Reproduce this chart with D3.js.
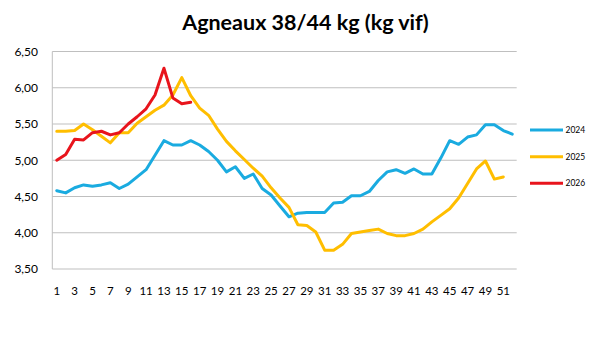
<!DOCTYPE html>
<html><head><meta charset="utf-8">
<script src="https://cdn.jsdelivr.net/npm/d3@7"></script>
<style>body{margin:0;background:#fff}svg{display:block}text{font-family:Lato,"Open Sans",sans-serif}</style>
</head><body><svg id="c" width="600" height="356"></svg>
<script>
const weeks = d3.range(1, 53);
const xTickLabels = d3.range(1, 53, 2);
const yTicks = [3.5, 4.0, 4.5, 5.0, 5.5, 6.0, 6.5];
const seriesNames = ["2024", "2025", "2026"];
const values2024 = [4.58,4.55,4.62,4.66,4.64,4.66,4.69,4.61,4.67,4.77,4.87,5.07,5.27,5.21,5.21,5.27,5.21,5.12,5.00,4.84,4.91,4.75,4.81,4.61,4.52,4.37,4.22,4.27,4.28,4.28,4.28,4.41,4.42,4.51,4.51,4.57,4.72,4.84,4.87,4.82,4.88,4.81,4.81,5.03,5.27,5.22,5.32,5.35,5.49,5.49,5.41,5.36];
const values2025 = [5.40,5.40,5.41,5.50,5.42,5.33,5.24,5.38,5.38,5.51,5.60,5.69,5.76,5.90,6.14,5.89,5.72,5.62,5.43,5.26,5.13,5.01,4.89,4.78,4.62,4.48,4.35,4.11,4.10,4.01,3.76,3.76,3.84,3.99,4.01,4.03,4.05,3.99,3.96,3.96,3.99,4.05,4.15,4.24,4.33,4.48,4.68,4.88,4.99,4.74,4.77,null];
const values2026 = [5.00,5.08,5.29,5.28,5.38,5.40,5.35,5.38,5.50,5.60,5.71,5.90,6.27,5.86,5.78,5.80];
const colors = ["#1AABE0", "#FFBE00", "#E8141C"];
const allValues = [values2024, values2025, values2026];

const svg = d3.select("#c");
const L = 52.3, R = 516.7, T = 51.5, B = 269;
const x = d3.scaleBand().domain(weeks).range([L, R]);
const y = d3.scaleLinear().domain([3.5, 6.5]).range([B, T]);

// gridlines
svg.append("g").selectAll("line").data(yTicks).join("line")
  .attr("x1", L).attr("x2", R).attr("y1", d => y(d)).attr("y2", d => y(d))
  .attr("stroke", "#BFBFBF").attr("stroke-width", 1);
svg.append("line").attr("x1", L).attr("x2", L).attr("y1", T).attr("y2", B)
  .attr("stroke", "#BFBFBF").attr("stroke-width", 1);

// y axis labels
const yAxis = d3.axisLeft(y).tickValues(yTicks).tickSize(0).tickPadding(0)
  .tickFormat(d => d3.format(".2f")(d).replace(".", ","));
const gy = svg.append("g").attr("transform", `translate(38,0)`).call(yAxis);
gy.select(".domain").remove();
gy.selectAll("text").attr("font-size", 12).attr("fill", "#000").attr("font-family", "Lato, 'Open Sans', sans-serif");

// x axis labels
const xAxis = d3.axisBottom(x).tickValues(xTickLabels).tickSize(0).tickPadding(0);
const gx = svg.append("g").attr("transform", `translate(0,${B + 18})`).call(xAxis);
gx.select(".domain").remove();
gx.selectAll("text").attr("font-size", 11.5).attr("fill", "#000").attr("font-family", "Lato, 'Open Sans', sans-serif");

// lines
const line = d3.line().defined(d => d != null)
  .x((d, i) => x(weeks[i]) + x.bandwidth() / 2).y(d => y(d));
allValues.forEach((vals, k) => {
  svg.append("path").datum(vals).attr("d", line)
    .attr("fill", "none").attr("stroke", colors[k]).attr("stroke-width", 3)
    .attr("stroke-linejoin", "round").attr("stroke-linecap", "round");
});

// legend
const ly = [130, 156.7, 183.3];
seriesNames.forEach((n, k) => {
  svg.append("line").attr("x1", 530).attr("x2", 563).attr("y1", ly[k]).attr("y2", ly[k])
    .attr("stroke", colors[k]).attr("stroke-width", 3);
  svg.append("text").attr("x", 565.5).attr("y", ly[k]).attr("dy", "0.35em")
    .attr("font-size", 8.5).attr("fill", "#000").text(n);
});

// title
svg.append("text").attr("x", 305.5).attr("y", 30).attr("text-anchor", "middle")
  .attr("font-size", 21.5).attr("font-weight", "bold").attr("fill", "#000")
  .text("Agneaux 38/44 kg (kg vif)");
</script></body></html>
